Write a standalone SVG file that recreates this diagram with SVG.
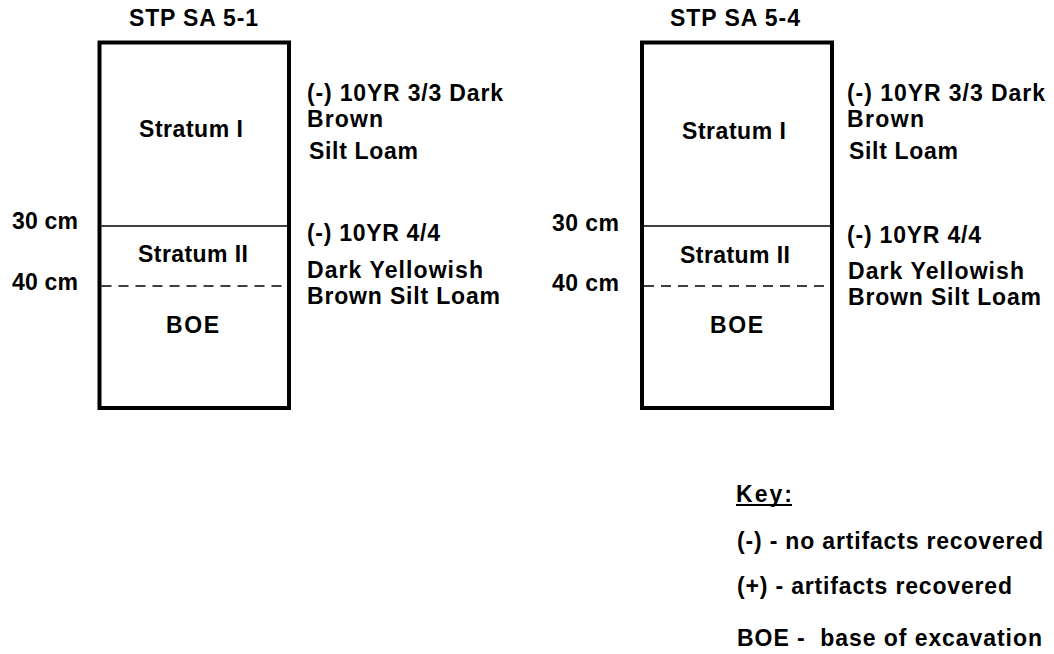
<svg xmlns="http://www.w3.org/2000/svg" width="1054" height="654" viewBox="0 0 1054 654">
<style>
text{font-family:"Liberation Sans",Arial,sans-serif;font-weight:bold;font-size:23px;fill:#000}
.box{fill:#fff;stroke:#000;stroke-width:4}
.solid{stroke:#000;stroke-width:1.6}
.dash{stroke:#000;stroke-width:1.6;stroke-dasharray:10 7}
</style>
<rect width="1054" height="654" fill="#fff"/>
<g id="stp-5-1">
<text x="129" y="26" textLength="129" lengthAdjust="spacing">STP SA 5-1</text>
<rect class="box" x="99.5" y="42.5" width="189.5" height="365.5"/>
<text x="139" y="137" textLength="104" lengthAdjust="spacing">Stratum I</text>
<text x="138" y="262" textLength="110" lengthAdjust="spacing">Stratum II</text>
<text x="166" y="333" textLength="53" lengthAdjust="spacing">BOE</text>
<text x="12" y="229" textLength="66" lengthAdjust="spacing">30 cm</text>
<text x="12" y="290" textLength="66" lengthAdjust="spacing">40 cm</text>
<text x="307" y="101" textLength="196" lengthAdjust="spacing">(-) 10YR 3/3 Dark</text>
<text x="307" y="127" textLength="76" lengthAdjust="spacing">Brown</text>
<text x="309" y="159" textLength="109" lengthAdjust="spacing">Silt Loam</text>
<text x="307" y="241" textLength="133" lengthAdjust="spacing">(-) 10YR 4/4</text>
<text x="307" y="278" textLength="176" lengthAdjust="spacing">Dark Yellowish</text>
<text x="307" y="304" textLength="193" lengthAdjust="spacing">Brown Silt Loam</text>
</g>
<g id="stp-5-4">
<text x="670" y="26" textLength="130" lengthAdjust="spacing">STP SA 5-4</text>
<rect class="box" x="642" y="42.5" width="190" height="365.5"/>
<text x="682" y="139" textLength="104" lengthAdjust="spacing">Stratum I</text>
<text x="680" y="263" textLength="110" lengthAdjust="spacing">Stratum II</text>
<text x="710" y="333" textLength="53" lengthAdjust="spacing">BOE</text>
<text x="552" y="231" textLength="67" lengthAdjust="spacing">30 cm</text>
<text x="552" y="291" textLength="67" lengthAdjust="spacing">40 cm</text>
<text x="847" y="101" textLength="198" lengthAdjust="spacing">(-) 10YR 3/3 Dark</text>
<text x="847" y="127" textLength="77" lengthAdjust="spacing">Brown</text>
<text x="849" y="159" textLength="109" lengthAdjust="spacing">Silt Loam</text>
<text x="847" y="243" textLength="134" lengthAdjust="spacing">(-) 10YR 4/4</text>
<text x="848" y="279" textLength="176" lengthAdjust="spacing">Dark Yellowish</text>
<text x="848" y="305" textLength="193" lengthAdjust="spacing">Brown Silt Loam</text>
</g>
<g id="connectors">
<line class="solid" x1="101.5" y1="226" x2="287" y2="226"/>
<line class="dash" x1="101.5" y1="286" x2="287" y2="286"/>
<line class="solid" x1="644" y1="226" x2="830" y2="226"/>
<line class="dash" x1="644" y1="286" x2="830" y2="286"/>
</g>
<g id="key">
<text x="736" y="502" textLength="56" lengthAdjust="spacing">Key:</text>
<line x1="736" y1="505" x2="792" y2="505" stroke="#000" stroke-width="2"/>
<text x="737" y="549" textLength="306" lengthAdjust="spacing">(-) - no artifacts recovered</text>
<text x="737" y="594" textLength="275" lengthAdjust="spacing">(+) - artifacts recovered</text>
<text x="737" y="646" textLength="305" lengthAdjust="spacing" xml:space="preserve">BOE -  base of excavation</text>
</g>
</svg>
